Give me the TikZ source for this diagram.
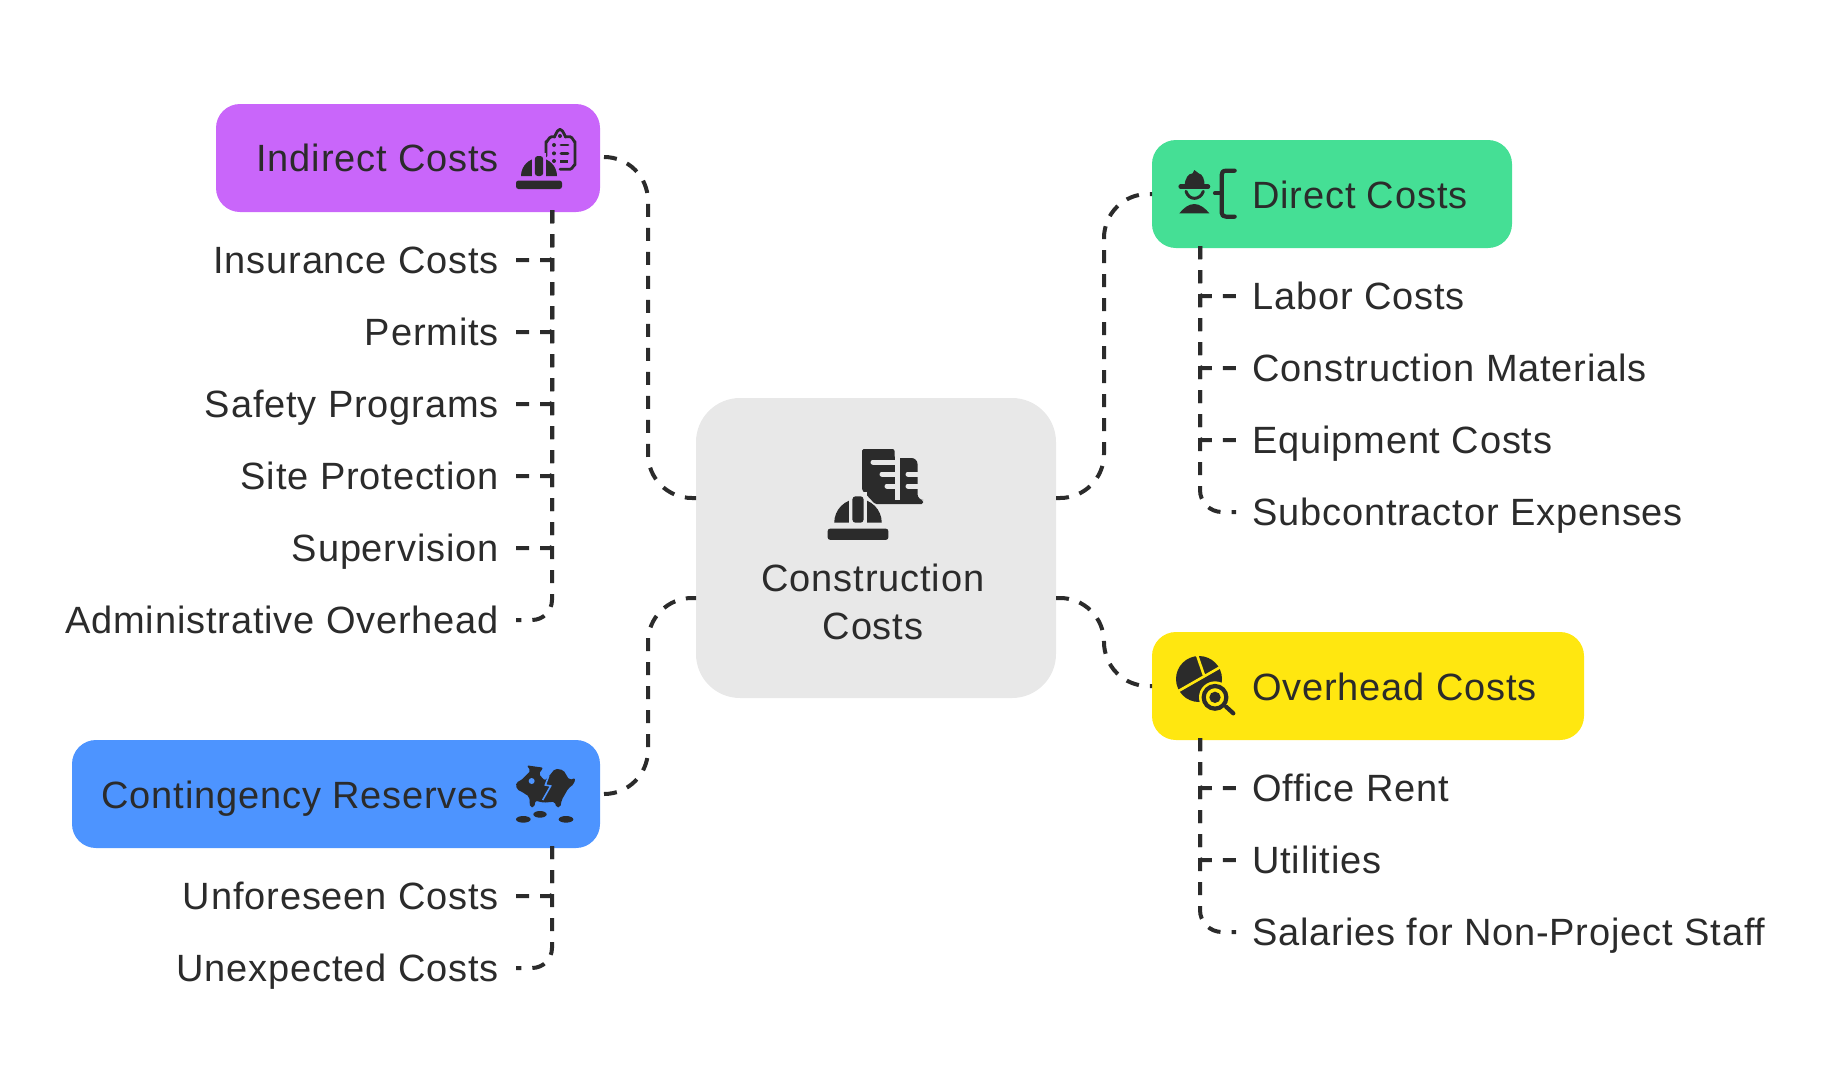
\documentclass[tikz,border=0pt]{standalone}
\usepackage{fontspec}
\setmainfont[LetterSpace=2.2]{Liberation Sans}
\usetikzlibrary{calc}
\definecolor{ink}{HTML}{2B2B2B}
\definecolor{cpurple}{HTML}{C966FA}
\definecolor{cgreen}{HTML}{45DF95}
\definecolor{cyellow}{HTML}{FFE710}
\definecolor{cblue}{HTML}{4D94FF}
\definecolor{cgray}{HTML}{E8E8E8}
\tikzset{
  box/.style={rectangle,rounded corners=24pt,minimum width=#1,inner sep=0pt,minimum height=108pt},
  label/.style={text=ink,font=\fontsize{38}{48}\selectfont,inner sep=0pt},
  leftlabel/.style={label,anchor=base east},
  rightlabel/.style={label,anchor=base west},
  link/.style={draw=ink,line width=4pt,dash pattern=on 13pt off 11pt,rounded corners=#1},
  link/.default=44pt,
  stroke/.style={draw=ink,line cap=round,line join=round,fill=none},
}
% name, centre y, trunk start, text, corner radius, free end x
\newcommand\leftitem[6]{%
  \node[leftlabel] (#1) at (499,#2+13) {#4};
  \coordinate (#1e) at (#6,#2);
  \draw[link=#5] (#3) -- (#3 |- #1e) -- (#1e);
}
\newcommand\rightitem[6]{%
  \node[rightlabel] (#1) at (1252,#2+13) {#4};
  \coordinate (#1e) at (#6,#2);
  \draw[link=#5] (#3) -- (#3 |- #1e) -- (#1e);
}
\newcommand\helmet[4]{%
  \begin{scope}[shift={(#1,#2)},scale=#3]
    \fill[ink] (-18,0) arc[start angle=180,end angle=0,radius=18pt] -- cycle;
    \fill[#4] (-7,-23) rectangle (7,1);
    \fill[ink,rounded corners=3pt] (-4.2,0) -- (-4.2,-20) -- (4.2,-20) -- (4.2,0) -- cycle;
    \fill[ink,rounded corners=2.5pt] (-23,4.5) rectangle (23,13);
  \end{scope}}
\begin{document}
\begin{tikzpicture}[x=1pt,y=-1pt]
\useasboundingbox (0,0) rectangle (1824,1088);
% main boxes
\node[box=360pt,fill=cgray,minimum height=300pt,rounded corners=44pt] (ctr) at (876,548) {};
\node[box=384pt,fill=cpurple] (ind) at (408,158) {};
\node[box=360pt,fill=cgreen] (dir) at (1332,194) {};
\node[box=432pt,fill=cyellow] (ovh) at (1368,686) {};
\node[box=528pt,fill=cblue] (con) at (336,794) {};
% box titles
\node[leftlabel] (indt) at (499,171) {Indirect Costs};
\node[rightlabel] (dirt) at (1252,208) {Direct Costs};
\node[rightlabel] (ovht) at (1252,700) {Overhead Costs};
\node[leftlabel] (cont) at (499,808) {Contingency Reserves};
\node[label,align=center,anchor=base] (ctrt) at (873,639) {Construction\\Costs};
% connectors from the centre
\coordinate (cnw) at (696,498);
\coordinate (cne) at (1056,498);
\coordinate (csw) at (696,598);
\coordinate (cse) at (1056,598);
\coordinate (indo) at (604,157);
\coordinate (diri) at (1152,194);
\coordinate (ovhi) at (1152,686);
\coordinate (cono) at (604,794);
\draw[link] (indo) -- (648,157) -- (648,498) -- (cnw);
\draw[link] (cono) -- (648,794) -- (648,598) -- (csw);
\draw[link] (cne) -- (1104,498) -- (1104,194) -- (diri);
\draw[link] (cse) -- (1104,598) -- (1104,686) -- (ovhi);
% trunks
\coordinate (indb) at (552,210);
\coordinate (conb) at (552,846);
\coordinate (dirb) at (1200,246);
\coordinate (ovhb) at (1200,738);
\leftitem{i1}{260}{indb}{Insurance Costs}{2pt}{514}
\leftitem{i2}{332}{indb}{Permits}{2pt}{514}
\leftitem{i3}{404}{indb}{Safety Programs}{2pt}{514}
\leftitem{i4}{476}{indb}{Site Protection}{2pt}{514}
\leftitem{i5}{548}{indb}{Supervision}{2pt}{514}
\leftitem{i6}{620}{indb}{Administrative Overhead}{20pt}{516}
\leftitem{c1}{896}{conb}{Unforeseen Costs}{2pt}{514}
\leftitem{c2}{968}{conb}{Unexpected Costs}{20pt}{516}
\rightitem{d1}{296}{dirb}{Labor Costs}{2pt}{1238}
\rightitem{d2}{368}{dirb}{Construction Materials}{2pt}{1238}
\rightitem{d3}{440}{dirb}{Equipment Costs}{2pt}{1238}
\rightitem{d4}{512}{dirb}{Subcontractor Expenses}{22pt}{1236}
\rightitem{o1}{788}{ovhb}{Office Rent}{2pt}{1238}
\rightitem{o2}{860}{ovhb}{Utilities}{2pt}{1238}
\rightitem{o3}{932}{ovhb}{Salaries for Non-Project Staff}{22pt}{1236}
% centre icon
\fill[ink,rounded corners=2pt] (862,449) -- (894.5,449) -- (894.5,458) -- (910,458) [rounded corners=6pt] -- (917.5,458) -- (917.5,500) [rounded corners=1.5pt] -- (923,500) -- (923,504) -- (875,504) -- (862,490) -- cycle;
\begin{scope}[cgray,line width=5pt,line cap=round]
  \fill (895,455) rectangle (900,499.5);
  \draw (873,462) -- (896,462);
  \draw (882,474) -- (896,474);
  \draw (887,486) -- (896,486);
  \draw (908,474) -- (920,474);
  \draw (908,486) -- (920,486);
\end{scope}
\helmet{858}{522.7}{1.32}{cgray}
% indirect icon
\begin{scope}[shift={(480,100)},scale=1/3]
  \draw[stroke,line width=2.8pt] (198,168) -- (198,125) to[out=-90,in=180] (215,110) -- (222,110) to[out=-90,in=180] (240,88) to[out=0,in=-90] (258,110) -- (270,110) to[out=0,in=-90] (285,125) -- (285,195) to[out=90,in=0] (270,208) -- (240,208);
  \fill[ink] (240,108) circle (6pt);
  \foreach \yy in {135,160} {\fill[ink] (222,\yy) circle (6pt); \draw[stroke,line width=2.8pt] (243,\yy) -- (264,\yy);}
  \fill[ink] (222,183) circle (6pt);
  \draw[stroke,line width=3.5pt,line cap=butt] (240,184) -- (265,184);
\end{scope}
\helmet{539}{176}{1}{cpurple}
% direct icon
\begin{scope}[shift={(1150,130)},scale=1/3]
  \fill[ink] (104,168) .. controls (104,145) and (116,130) .. (128,130) -- (133,120) -- (146,130) .. controls (158,132) and (165,150) .. (163,168) -- cycle;
  \draw[stroke,line width=4.5pt] (92,170) -- (174,170);
  \draw[stroke,line width=3pt] (108,184) .. controls (116,212) and (150,212) .. (160,184);
  \fill[ink] (88,250) .. controls (100,235) and (115,222) .. (133,222) .. controls (150,222) and (166,235) .. (178,250) -- cycle;
  \draw[stroke,line width=4.2pt] (254,122) -- (228,122) .. controls (218,122) and (215,128) .. (215,135) -- (215,248) .. controls (215,256) and (220,260) .. (228,260) -- (254,260);
  \draw[stroke,line width=4.2pt] (195,190) -- (215,190);
\end{scope}
% overhead icon
\begin{scope}[shift={(1160,640)},scale=1/3]
  \fill[ink] (117,117) circle (69pt);
  \draw[cyellow,line width=2.6pt] (110,42) -- (132,106);
  \draw[cyellow,line width=2.6pt] (192,75) -- (52,155);
  \fill[cyellow] (165,172) circle (48pt);
  \draw[ink,line width=4.2pt] (165,172) circle (34pt);
  \fill[ink] (165,172) circle (17pt);
  \draw[stroke,line width=4.2pt] (198,200) -- (220,220);
\end{scope}
% contingency icon
\begin{scope}[shift={(500,750)},scale=1/3]
  \fill[ink,rounded corners=2pt] (150,75) -- (165,56) -- (190,60) -- (208,90) -- (226,84) -- (222,102) -- (205,115) -- (185,150) -- (181,172) -- (168,172) -- (165,155) -- (130,158) -- (106,152) -- (103,172) -- (90,172) -- (88,140) -- (65,125) -- (50,118) -- (48,97) -- (62,92) -- (92,62) -- (80,46) -- (130,53) -- (116,72) -- (135,92) -- cycle;
  \draw[cblue,line width=1.6pt] (146,78) -- (136,105) -- (152,108) -- (128,150);
  \fill[cblue] (95,93) circle (9pt);
  \fill[ink] (70,208) ellipse (22pt and 10pt);
  \fill[ink] (120,193) ellipse (20pt and 10pt);
  \fill[ink] (198,208) ellipse (22pt and 10pt);
\end{scope}
\end{tikzpicture}
\end{document}
